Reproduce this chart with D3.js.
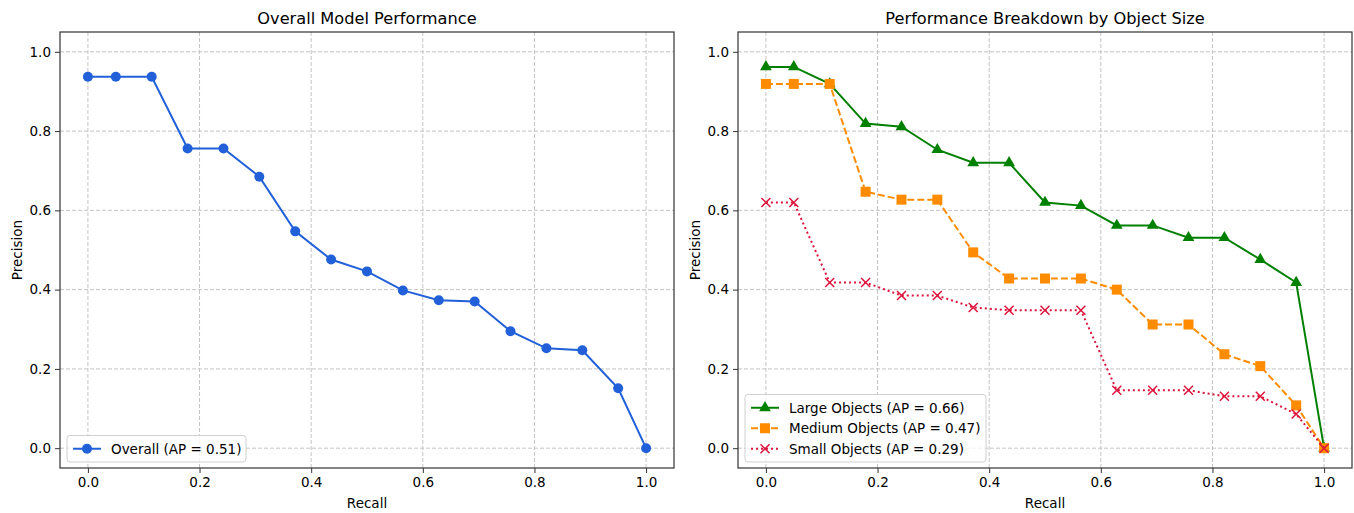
<!DOCTYPE html>
<meta charset="utf-8">
<html>
<head>
<title>Precision-Recall</title>
<style>
  body { margin: 0; background: #fff; }
  svg text { font-family: "DejaVu Sans", sans-serif; fill: #000; }
</style>
</head>
<body>
<script src="https://d3js.org/d3.v7.min.js"></script>
<svg width="1354" height="513"></svg>
<script>
    // recall points shared by every curve
    var recall = [0, 0.05, 0.1143, 0.1786, 0.2429, 0.3071, 0.3714, 0.4357, 0.5,
                  0.5643, 0.6286, 0.6929, 0.7571, 0.8214, 0.8857, 0.95, 1.0];

    var overall = [0.937, 0.937, 0.937, 0.756, 0.756, 0.685, 0.547, 0.476, 0.446,
                   0.398, 0.373, 0.370, 0.295, 0.252, 0.247, 0.151, 0];
    var large   = [0.962, 0.962, 0.919, 0.819, 0.811, 0.753, 0.720, 0.720, 0.620,
                   0.612, 0.562, 0.562, 0.531, 0.531, 0.476, 0.418, 0];
    var medium  = [0.919, 0.919, 0.919, 0.647, 0.627, 0.627, 0.494, 0.428, 0.428,
                   0.428, 0.400, 0.312, 0.312, 0.237, 0.207, 0.108, 0];
    var small   = [0.620, 0.620, 0.418, 0.418, 0.385, 0.385, 0.355, 0.348, 0.348,
                   0.348, 0.146, 0.146, 0.146, 0.131, 0.131, 0.086, 0];

    var ticks = [0, 0.2, 0.4, 0.6, 0.8, 1.0];
    var titles = ["Overall Model Performance", "Performance Breakdown by Object Size"];
    var leftSeries = [
        {name: "Overall (AP = 0.51)", values: overall, color: "#2160d8", dash: null, marker: "circle"}
    ];
    var rightSeries = [
        {name: "Large Objects (AP = 0.66)", values: large, color: "#008000", dash: null, marker: "triangle"},
        {name: "Medium Objects (AP = 0.47)", values: medium, color: "#ff8c00", dash: "7,3", marker: "square"},
        {name: "Small Objects (AP = 0.29)", values: small, color: "#dc143c", dash: "2,3", marker: "x"}
    ];

    var svg = d3.select("svg");
    var plotTop = 32, plotBottom = 468;

    function drawMarker(g, type, color) {
        if (type == "circle") {
            g.append("circle").attr("r", 5).attr("fill", color);
        } else if (type == "triangle") {
            g.append("path").attr("d", d3.symbol(d3.symbolTriangle, 60)()).attr("fill", color);
        } else if (type == "square") {
            g.append("rect").attr("x", -5).attr("y", -5).attr("width", 10).attr("height", 10).attr("fill", color);
        } else {
            g.append("path").attr("d", "M-4.5,-4.5L4.5,4.5M-4.5,4.5L4.5,-4.5")
                .attr("stroke", color).attr("stroke-width", 1.5).attr("fill", "none");
        }
    }

    function panel(left, right, title, series, legendWidth) {
        var x = d3.scaleLinear().domain([-0.05, 1.05]).range([left, right]);
        var y = d3.scaleLinear().domain([-0.05, 1.05]).range([plotBottom, plotTop]);
        var g = svg.append("g");

        // grid
        g.selectAll(".gx").data(ticks).enter().append("line")
            .attr("x1", function(d) { return x(d); }).attr("x2", function(d) { return x(d); })
            .attr("y1", plotTop).attr("y2", plotBottom)
            .attr("stroke", "#c4c4c4").attr("stroke-width", 1).attr("stroke-dasharray", "4,2");
        g.selectAll(".gy").data(ticks).enter().append("line")
            .attr("y1", function(d) { return y(d); }).attr("y2", function(d) { return y(d); })
            .attr("x1", left).attr("x2", right)
            .attr("stroke", "#c4c4c4").attr("stroke-width", 1).attr("stroke-dasharray", "4,2");

        // axes
        var ax = g.append("g").attr("transform", "translate(0," + plotBottom + ")")
            .call(d3.axisBottom(x).tickValues(ticks).tickFormat(d3.format(".1f")).tickSize(5).tickPadding(4));
        var ay = g.append("g").attr("transform", "translate(" + left + ",0)")
            .call(d3.axisLeft(y).tickValues(ticks).tickFormat(d3.format(".1f")).tickSize(5).tickPadding(4));
        [ax, ay].forEach(function(a) {
            a.select(".domain").remove();
            a.selectAll("text").attr("font-size", 13.5).attr("font-family", "DejaVu Sans");
            a.selectAll("line").attr("stroke", "#333");
        });

        // lines + markers
        series.forEach(function(s) {
            var pts = recall.map(function(r, i) { return [r, s.values[i]]; });
            g.append("path").datum(pts)
                .attr("d", d3.line().x(function(d) { return x(d[0]); }).y(function(d) { return y(d[1]); }))
                .attr("fill", "none").attr("stroke", s.color).attr("stroke-width", 2)
                .attr("stroke-dasharray", s.dash);
            pts.forEach(function(p) {
                var m = g.append("g").attr("transform", "translate(" + x(p[0]) + "," + y(p[1]) + ")");
                drawMarker(m, s.marker, s.color);
            });
        });

        // frame
        g.append("rect").attr("x", left).attr("y", plotTop).attr("width", right - left).attr("height", plotBottom - plotTop)
            .attr("fill", "none").attr("stroke", "#333").attr("stroke-width", 1.2);

        // titles
        g.append("text").attr("x", (left + right) / 2).attr("y", 24).attr("text-anchor", "middle")
            .attr("font-size", 16.2).text(title);
        g.append("text").attr("x", (left + right) / 2).attr("y", 508).attr("text-anchor", "middle")
            .attr("font-size", 13.5).text("Recall");
        g.append("text").attr("transform", "translate(" + (left - 38) + "," + ((plotTop + plotBottom) / 2) + ") rotate(-90)")
            .attr("text-anchor", "middle").attr("font-size", 13.5).text("Precision");

        // legend
        var rowH = 20.5;
        var lh = series.length * rowH + 6;
        var lx = left + 7, ly = plotBottom - 6 - lh;
        var lg = g.append("g").attr("transform", "translate(" + lx + "," + ly + ")");
        lg.append("rect").attr("width", legendWidth).attr("height", lh).attr("rx", 3)
            .attr("fill", "#fff").attr("fill-opacity", 0.8).attr("stroke", "#d0d0d0");
        series.forEach(function(s, i) {
            var cy = 3 + rowH * i + rowH / 2;
            lg.append("line").attr("x1", 6).attr("x2", 34).attr("y1", cy).attr("y2", cy)
                .attr("stroke", s.color).attr("stroke-width", 2).attr("stroke-dasharray", s.dash);
            drawMarker(lg.append("g").attr("transform", "translate(20," + cy + ")"), s.marker, s.color);
            lg.append("text").attr("x", 44).attr("y", cy + 5).attr("font-size", 13.5).text(s.name);
        });
    }

    panel(60, 674, titles[0], leftSeries, 179);
    panel(738, 1352, titles[1], rightSeries, 241);
</script>
</body>
</html>
